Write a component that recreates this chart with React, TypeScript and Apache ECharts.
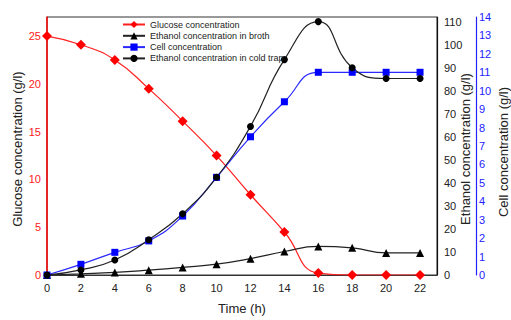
import React, { useEffect, useRef } from "react";
import * as echarts from "echarts";

const times = [0, 2, 4, 6, 8, 10, 12, 14, 16, 18, 20, 22];
const glucose = [25, 24.1, 22.5, 19.5, 16.1, 12.5, 8.4, 4.5, 0.2, 0, 0, 0];
const ethanolBroth = [0, 0.5, 1.1, 2.1, 3.3, 4.7, 7.1, 10.2, 12.4, 11.8, 9.6, 9.6];
const cell = [0, 0.58, 1.23, 1.85, 3.2, 5.3, 7.5, 9.4, 11.0, 11.0, 11.0, 11.0];
const ethanolTrap = [0, 2.2, 6.5, 15.3, 26.6, 42.4, 64.5, 93.5, 110, 90, 85.3, 85.3];

const yNames = ["Glucose concentration (g/l)", "Ethanol concentration (g/l)", "Cell concentration (g/l)"];

const FONT = "Liberation Sans, Arial, sans-serif";

function pairs(ys: number[]) {
  return times.map((t, i) => [t, ys[i]]);
}

export default function App() {
  const ref = useRef<HTMLDivElement>(null);
  useEffect(() => {
    if (!ref.current) return;
    const chart = echarts.init(ref.current, undefined, { renderer: "svg" });
    const nameStyle = (text: string) => ({
      text,
      fill: "#222",
      font: `13px ${FONT}`,
      textAlign: "center",
      textVerticalAlign: "middle",
    });
    chart.setOption({
      animation: false,
      textStyle: { fontFamily: FONT },
      grid: {
        left: 47,
        top: 17,
        right: 74,
        bottom: 39,
        show: true,
        borderColor: "#333",
        borderWidth: 1,
      },
      graphic: [
        { type: "text", x: 17, y: 149, rotation: Math.PI / 2, style: nameStyle(yNames[0]) },
        { type: "text", x: 465, y: 149, rotation: Math.PI / 2, style: nameStyle(yNames[1]) },
        { type: "text", x: 503, y: 152, rotation: Math.PI / 2, style: nameStyle(yNames[2]) },
      ],
      legend: {
        orient: "vertical",
        left: 117,
        top: 14,
        itemWidth: 22,
        itemHeight: 9,
        itemGap: 0.3,
        textStyle: { fontSize: 9, color: "#222", lineHeight: 11, fontFamily: FONT },
        data: [
          "Glucose concentration",
          "Ethanol concentration in broth",
          "Cell concentration",
          "Ethanol concentration in cold trap",
        ],
      },
      xAxis: {
        type: "value",
        min: 0,
        max: 23,
        interval: 2,
        name: "Time (h)",
        nameLocation: "middle",
        nameGap: 27,
        nameTextStyle: { fontSize: 13, color: "#222", fontFamily: FONT },
        axisLine: { lineStyle: { color: "#333", width: 1 } },
        axisTick: { show: false },
        splitLine: { show: false },
        axisLabel: { fontSize: 11, color: "#222", showMaxLabel: false, margin: 7 },
      },
      yAxis: [
        {
          type: "value",
          min: 0,
          max: 27,
          interval: 5,
          position: "left",
          axisLine: { show: true, lineStyle: { color: "#ff0000", width: 1.5 } },
          axisTick: { show: false },
          splitLine: { show: false },
          axisLabel: { fontSize: 11, color: "#ff2020", showMaxLabel: false, margin: 6 },
        },
        {
          type: "value",
          min: 0,
          max: 112,
          interval: 10,
          position: "right",
          axisLine: { show: true, lineStyle: { color: "#111", width: 1.2 } },
          axisTick: { show: false },
          splitLine: { show: false },
          axisLabel: { fontSize: 11, color: "#222", showMaxLabel: false, margin: 7 },
        },
        {
          type: "value",
          min: 0,
          max: 14,
          interval: 1,
          position: "right",
          offset: 39,
          axisLine: { show: true, lineStyle: { color: "#2222ff", width: 1.2 } },
          axisTick: { show: false },
          splitLine: { show: false },
          axisLabel: { fontSize: 11, color: "#2222ff", margin: 3 },
        },
      ],
      series: [
        {
          name: "Glucose concentration",
          type: "line",
          yAxisIndex: 0,
          smooth: true,
          symbol: "diamond",
          symbolSize: 10,
          itemStyle: { color: "#ff0000" },
          lineStyle: { color: "#ff2020", width: 1.2 },
          data: pairs(glucose),
          z: 3,
        },
        {
          name: "Ethanol concentration in broth",
          type: "line",
          yAxisIndex: 1,
          smooth: true,
          symbol: "triangle",
          symbolSize: 8,
          itemStyle: { color: "#000" },
          lineStyle: { color: "#222", width: 1.2 },
          data: pairs(ethanolBroth),
        },
        {
          name: "Cell concentration",
          type: "line",
          yAxisIndex: 2,
          smooth: true,
          symbol: "rect",
          symbolSize: 7,
          itemStyle: { color: "#0000ff" },
          lineStyle: { color: "#2a2aff", width: 1.2 },
          data: pairs(cell),
        },
        {
          name: "Ethanol concentration in cold trap",
          type: "line",
          yAxisIndex: 1,
          smooth: true,
          symbol: "circle",
          symbolSize: 7,
          itemStyle: { color: "#000" },
          lineStyle: { color: "#222", width: 1.2 },
          data: pairs(ethanolTrap),
        },
      ],
    });
    return () => chart.dispose();
  }, []);
  return <div ref={ref} style={{ width: 511, height: 320, position: "absolute", left: 0, top: 0 }} />;
}
